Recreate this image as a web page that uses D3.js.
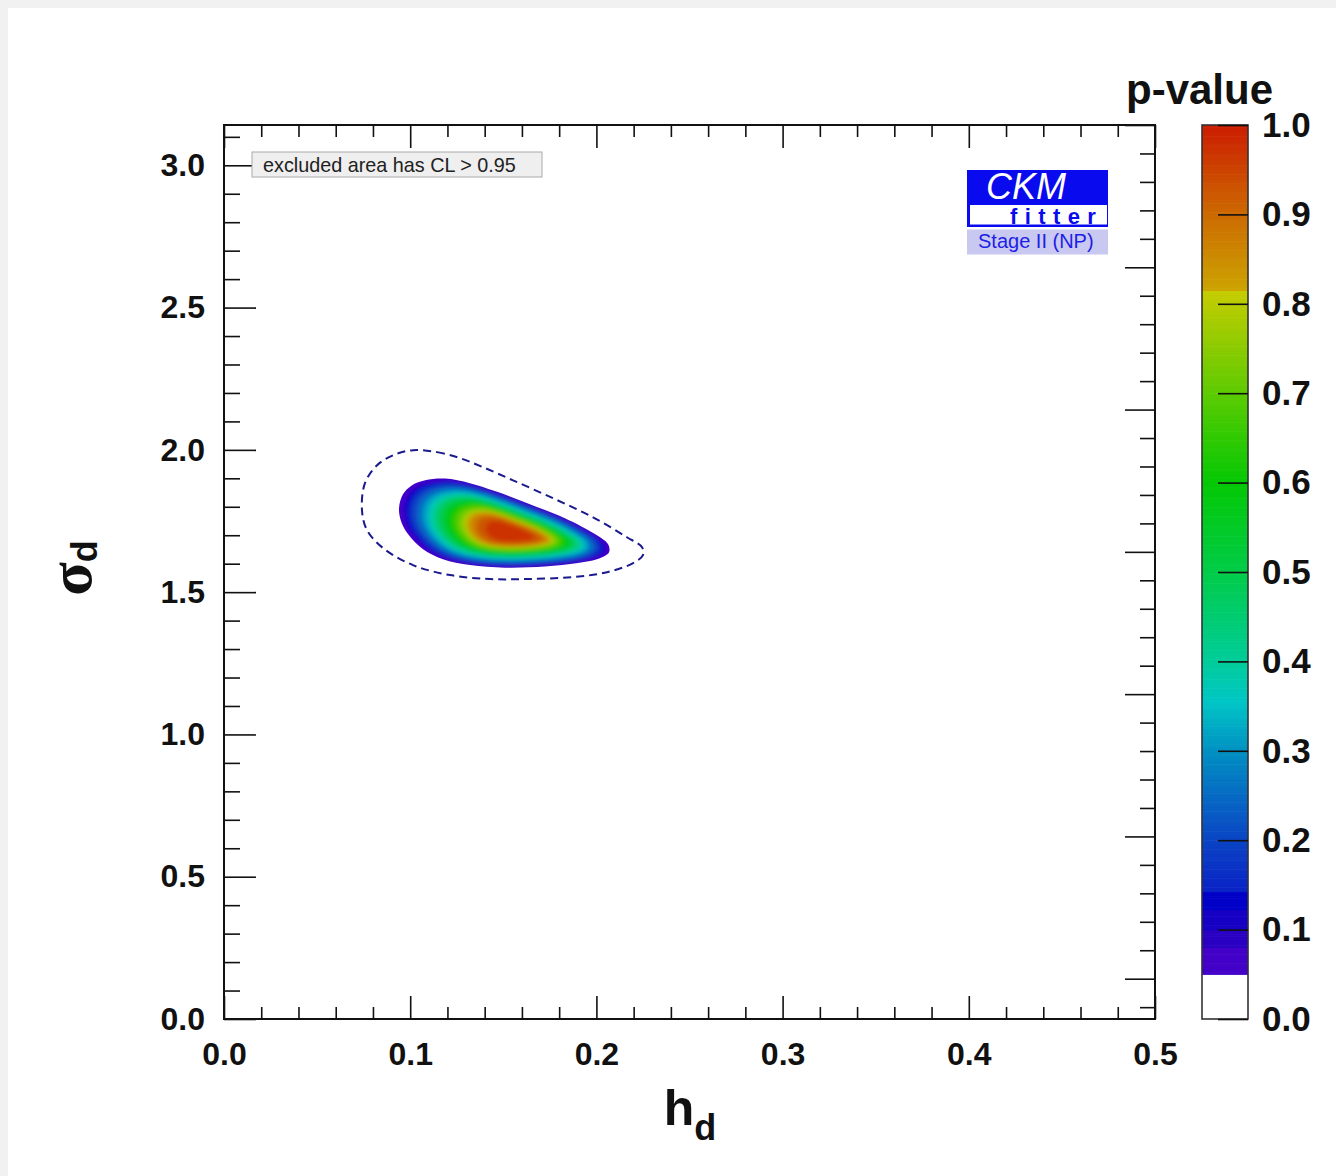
<!DOCTYPE html>
<html>
<head>
<meta charset="utf-8">
<script src="https://cdn.jsdelivr.net/npm/d3@7"></script>
<style>
  html, body { margin: 0; padding: 0; background: #ffffff; }
  svg { display: block; }
  text { font-family: "Liberation Sans", Arial, Helvetica, sans-serif; }
</style>
</head>
<body>
<svg id="chart" width="1336" height="1176"></svg>
<script>
// ---------------- data ----------------
// axis ticks and labels
const xMajorTicks = [0.0, 0.1, 0.2, 0.3, 0.4, 0.5];
const xTickLabels = ["0.0", "0.1", "0.2", "0.3", "0.4", "0.5"];
const yMajorTicks = [0.0, 0.5, 1.0, 1.5, 2.0, 2.5, 3.0];
const yTickLabels = ["0.0", "0.5", "1.0", "1.5", "2.0", "2.5", "3.0"];
const zTicks = [0.0, 0.1, 0.2, 0.3, 0.4, 0.5, 0.6, 0.7, 0.8, 0.9, 1.0];
const zTickLabels = ["0.0", "0.1", "0.2", "0.3", "0.4", "0.5", "0.6", "0.7", "0.8", "0.9", "1.0"];

// edge of the allowed region (p-value = 0.05), points [h_d, sigma_d]
const outerContour = [
  [0.0940, 1.795], [0.0961, 1.844], [0.1010, 1.876], [0.1080, 1.893],
  [0.1187, 1.899], [0.1321, 1.883], [0.1455, 1.855], [0.1643, 1.809],
  [0.1831, 1.760], [0.1992, 1.704], [0.2062, 1.669], [0.2068, 1.640],
  [0.2019, 1.619], [0.1901, 1.602], [0.1724, 1.590], [0.1509, 1.586],
  [0.1321, 1.595], [0.1176, 1.616], [0.1069, 1.651], [0.0988, 1.704],
  [0.0951, 1.749]
];

// best-fit point (p-value = 1)
const bestFit = [0.1545, 1.705];

// p-value levels and the fraction of the way from the best fit to the
// outer edge that each level reaches
const pLevels    = [0.05, 0.10, 0.15, 0.20, 0.25, 0.30, 0.35, 0.40, 0.45, 0.50,
                    0.55, 0.60, 0.65, 0.70, 0.75, 0.80, 0.85, 0.90, 0.95];
const levelReach = [1.00, 0.95, 0.91, 0.865, 0.82, 0.78, 0.74, 0.70, 0.66, 0.62,
                    0.58, 0.545, 0.51, 0.475, 0.44, 0.40, 0.36, 0.31, 0.23];

// dashed contour, points [h_d, sigma_d]
const dashedContour = [
  [0.1015, 1.999], [0.1144, 1.992], [0.1267, 1.971], [0.1391, 1.939],
  [0.1552, 1.893], [0.1767, 1.830], [0.1982, 1.763], [0.2164, 1.693],
  [0.2245, 1.658], [0.2250, 1.630], [0.2197, 1.602], [0.2057, 1.570],
  [0.1874, 1.553], [0.1627, 1.546], [0.1429, 1.546], [0.1214, 1.560],
  [0.1015, 1.595], [0.0854, 1.655], [0.0768, 1.718], [0.0741, 1.788],
  [0.0757, 1.883], [0.0822, 1.946], [0.0908, 1.981]
];

// colour palette of the p-value
const lowStepEdges  = [0.05, 0.08, 0.10, 0.122, 0.142];
const lowStepColors = ["#4300c8", "#2a00c2", "#1600c4", "#0000c8"];
const paletteStops  = [0.142, 0.2, 0.25, 0.3, 0.355, 0.4, 0.5, 0.6, 0.7, 0.8149,
                       0.815, 0.9, 1.0];
const paletteColors = ["#0a22c6", "#0a44c4", "#066ac4", "#0090c2", "#00c6c6",
                       "#00cc9a", "#00cc48", "#04c804", "#5ccb00", "#c6cc00",
                       "#cca400", "#cc6a00", "#cc1c00"];

// ---------------- layout ----------------
const svg = d3.select("#chart");
const plot = { left: 224, right: 1155, top: 125, bottom: 1019 };
const bar  = { left: 1202, right: 1248 };

const x = d3.scaleLinear().domain([0, 0.5]).range([plot.left, plot.right]);
const y = d3.scaleLinear().domain([0, Math.PI]).range([plot.bottom, plot.top]);
const z = d3.scaleLinear().domain([0, 1]).range([plot.bottom, plot.top]);

const contColor = d3.scaleLinear().domain(paletteStops).range(paletteColors)
  .interpolate(d3.interpolateRgb).clamp(true);
function palette(p) {
  if (p < lowStepEdges[0]) return "#ffffff";
  if (p < lowStepEdges[lowStepEdges.length - 1]) {
    return lowStepColors[d3.bisectRight(lowStepEdges, p) - 1];
  }
  return contColor(p);
}

// page edge strips
svg.append("rect").attr("x", 0).attr("y", 0).attr("width", 1336).attr("height", 1176).attr("fill", "#ffffff");
svg.append("rect").attr("x", 0).attr("y", 0).attr("width", 1336).attr("height", 8).attr("fill", "#f1f1f1");
svg.append("rect").attr("x", 0).attr("y", 0).attr("width", 8).attr("height", 1176).attr("fill", "#f1f1f1");

// ---------------- filled p-value region ----------------
const ring = d3.line()
  .x(d => x(d[0])).y(d => y(d[1]))
  .curve(d3.curveCatmullRomClosed.alpha(0.5));

const defs = svg.append("defs");
defs.append("filter").attr("id", "soften")
  .attr("x", "-10%").attr("y", "-10%").attr("width", "120%").attr("height", "120%")
  .append("feGaussianBlur").attr("stdDeviation", 2.2);
defs.append("clipPath").attr("id", "allowed")
  .append("path").attr("d", ring(outerContour));

const bands = svg.append("g").attr("clip-path", "url(#allowed)")
  .append("g").attr("filter", "url(#soften)");
pLevels.forEach((p, i) => {
  const r = levelReach[i];
  const pts = outerContour.map(([h, s]) => [bestFit[0] + (h - bestFit[0]) * r,
                                            bestFit[1] + (s - bestFit[1]) * r]);
  const upper = i + 1 < pLevels.length ? pLevels[i + 1] : 1.0;
  const col = palette((p + upper) / 2);
  bands.append("path")
    .attr("d", ring(pts))
    .attr("fill", col)
    .attr("stroke", i === 0 ? col : "none")
    .attr("stroke-width", i === 0 ? 10 : 0);
});

// dashed contour
svg.append("path")
  .attr("d", ring(dashedContour))
  .attr("fill", "none")
  .attr("stroke", "#1a1a8e")
  .attr("stroke-width", 2)
  .attr("stroke-dasharray", "8,5");

// ---------------- axes ----------------
const tickStyle = g => {
  g.select(".domain").remove();
  g.selectAll(".tick line").attr("stroke", "#111").attr("stroke-width", 1.6);
};
const labelStyle = (g, size) => g.selectAll(".tick text")
  .attr("fill", "#111").attr("font-size", size).attr("font-weight", "bold")
  .attr("font-family", "'Liberation Sans', Arial, Helvetica, sans-serif");

const near = (v, arr) => arr.some(a => Math.abs(a - v) < 1e-6);
const xMinor = d3.range(0, 0.5001, 0.02).filter(v => !near(v, xMajorTicks));
const yMinor = d3.range(0, 3.1001, 0.1).filter(v => !near(v, yMajorTicks));
const rightTicks = d3.range(0, 32).map(k => Math.PI - k * 0.1).filter(v => v > 0);
const rightMajor = rightTicks.filter((v, k) => k % 5 === 0);
const rightMinor = rightTicks.filter((v, k) => k % 5 !== 0);

// bottom
svg.append("g").attr("transform", `translate(0,${plot.bottom})`)
  .call(d3.axisBottom(x).tickValues(xMinor).tickSize(-12).tickFormat(""))
  .call(tickStyle);
svg.append("g").attr("transform", `translate(0,${plot.bottom})`)
  .call(d3.axisBottom(x).tickValues(xMajorTicks).tickSize(-23).tickPadding(23)
    .tickFormat((d, i) => xTickLabels[i]))
  .call(tickStyle).call(g => labelStyle(g, 32));
// top
svg.append("g").attr("transform", `translate(0,${plot.top})`)
  .call(d3.axisTop(x).tickValues(xMinor).tickSize(-12).tickFormat(""))
  .call(tickStyle);
svg.append("g").attr("transform", `translate(0,${plot.top})`)
  .call(d3.axisTop(x).tickValues(xMajorTicks).tickSize(-23).tickFormat(""))
  .call(tickStyle);
// left
svg.append("g").attr("transform", `translate(${plot.left},0)`)
  .call(d3.axisLeft(y).tickValues(yMinor).tickSize(-16).tickFormat(""))
  .call(tickStyle);
svg.append("g").attr("transform", `translate(${plot.left},0)`)
  .call(d3.axisLeft(y).tickValues(yMajorTicks).tickSize(-32).tickPadding(19)
    .tickFormat((d, i) => yTickLabels[i]))
  .call(tickStyle).call(g => labelStyle(g, 32));
// right
svg.append("g").attr("transform", `translate(${plot.right},0)`)
  .call(d3.axisRight(y).tickValues(rightMinor).tickSize(-15).tickFormat(""))
  .call(tickStyle);
svg.append("g").attr("transform", `translate(${plot.right},0)`)
  .call(d3.axisRight(y).tickValues(rightMajor).tickSize(-30).tickFormat(""))
  .call(tickStyle);

// frame
svg.append("rect")
  .attr("x", plot.left).attr("y", plot.top)
  .attr("width", plot.right - plot.left).attr("height", plot.bottom - plot.top)
  .attr("fill", "none").attr("stroke", "#111").attr("stroke-width", 2);

// axis titles
const xt = svg.append("text").attr("x", 690).attr("y", 1125)
  .attr("text-anchor", "middle").attr("font-weight", "bold").attr("fill", "#111");
xt.append("tspan").attr("font-size", 50).text("h");
xt.append("tspan").attr("font-size", 36).attr("dy", 15).text("d");

const yt = svg.append("text")
  .attr("transform", "translate(91,568) rotate(-90)")
  .attr("text-anchor", "middle").attr("fill", "#111");
yt.append("tspan").attr("font-size", 62).attr("font-weight", "bold")
  .attr("font-family", "'Liberation Serif', 'DejaVu Serif', serif").text("σ");
yt.append("tspan").attr("font-size", 36).attr("font-weight", "bold")
  .attr("dy", 6).text("d");

// legend note
svg.append("rect").attr("x", 252).attr("y", 152).attr("width", 290).attr("height", 25)
  .attr("fill", "#efefef").attr("stroke", "#aaaaaa").attr("stroke-width", 1);
svg.append("text").attr("x", 263).attr("y", 172).attr("font-size", 19.8)
  .attr("fill", "#222").text("excluded area has CL > 0.95");

// CKMfitter logo
const logo = svg.append("g");
logo.append("rect").attr("x", 967).attr("y", 170).attr("width", 141).attr("height", 57)
  .attr("fill", "#0a0aee");
logo.append("rect").attr("x", 970).attr("y", 205).attr("width", 137).attr("height", 19.5)
  .attr("fill", "#ffffff");
logo.append("text").attr("x", 986).attr("y", 199).attr("font-size", 36)
  .attr("font-style", "italic").attr("fill", "#ffffff").text("CKM");
logo.append("text").attr("x", 1010).attr("y", 223.5).attr("font-size", 22)
  .attr("font-weight", "bold").attr("letter-spacing", 7.4).attr("fill", "#0a0aee").text("fitter");
logo.append("rect").attr("x", 967).attr("y", 229.5).attr("width", 141).attr("height", 25)
  .attr("fill", "#c8c8f0");
logo.append("text").attr("x", 978).attr("y", 248).attr("font-size", 20)
  .attr("fill", "#1e1ee6").text("Stage II (NP)");

// ---------------- colour bar ----------------
const cb = svg.append("g");
const step = 0.0025;
cb.selectAll("rect.cell")
  .data(d3.range(0, 1, step))
  .join("rect").attr("class", "cell")
  .attr("x", bar.left).attr("width", bar.right - bar.left)
  .attr("y", d => z(d + step))
  .attr("height", d => z(d) - z(d + step) + 0.6)
  .attr("fill", d => palette(d + step / 2));
cb.append("rect")
  .attr("x", bar.left).attr("y", plot.top)
  .attr("width", bar.right - bar.left).attr("height", plot.bottom - plot.top)
  .attr("fill", "none").attr("stroke", "#333").attr("stroke-width", 1.6);
svg.append("g").attr("transform", `translate(${bar.right},0)`)
  .call(d3.axisRight(z).tickValues(zTicks).tickSize(-30).tickPadding(14)
    .tickFormat((d, i) => zTickLabels[i]))
  .call(tickStyle).call(g => labelStyle(g, 35));

svg.append("text").attr("x", 1126).attr("y", 104).attr("font-size", 42)
  .attr("font-weight", "bold").attr("fill", "#111").text("p-value");
</script>
</body>
</html>
